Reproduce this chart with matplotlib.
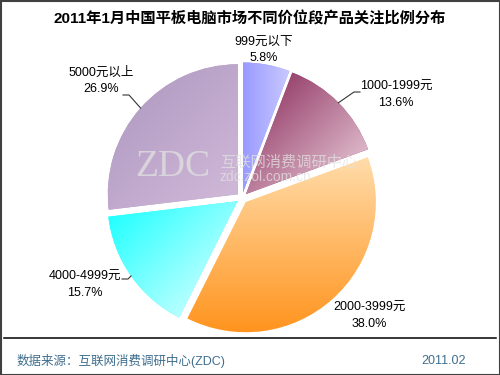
import matplotlib.pyplot as plt
import numpy as np
from matplotlib.patches import Rectangle
from matplotlib.colors import to_rgb

plt.rcParams['font.family'] = ['Liberation Sans', 'Noto Sans CJK SC']

# 数据
labels = ['999元以下', '1000-1999元', '2000-3999元', '4000-4999元', '5000元以上']
shares = [5.8, 13.6, 38.0, 15.7, 26.9]

# 渐变色 (起点, 终点, 方向)
grad_colors = [('#9a9aff', '#c8c8ff', (1, 0)),
               ('#9a4670', '#dcb6c8', (1, 1)),
               ('#ffdcaa', '#ff941e', (0, 1)),
               ('#22ffff', '#b8ffff', (1, 1)),
               ('#b6a0c6', '#d0b8d8', (1, 1))]

# 标签位置 (像素) 和引线拐点
label_pos = [(264, 50), (396, 95), (369, 316), (85, 285), (101, 81)]
knees = [None, [(354, 92), (360, 92)], None,
         [(128, 279), (122, 279)], [(129, 95), (123, 95)]]

W, H = 500, 375
fig = plt.figure(figsize=(5, 3.75), dpi=100)
ax = fig.add_axes([0, 0, 1, 1])

cx, cy, R = 242, 198, 130
# y轴反向 -> startangle=-90 + 逆时针 = 屏幕上从12点顺时针
# explode 是数据单位(像素)
wedges, _ = ax.pie(shares, center=(cx, cy), radius=R, startangle=-90,
                   counterclock=True, explode=[5.6] * 5,
                   colors=[c[0] for c in grad_colors],
                   wedgeprops=dict(linewidth=0))

X, Y = np.meshgrid(np.arange(W) + 0.5, np.arange(H) + 0.5)
for w, (c1, c2, (dx, dy)) in zip(wedges, grad_colors):
    th = np.radians(np.linspace(w.theta1, w.theta2, 60))
    px = np.r_[w.center[0], w.center[0] + w.r * np.cos(th)]
    py = np.r_[w.center[1], w.center[1] + w.r * np.sin(th)]
    p = px * dx + py * dy
    t = np.clip((X * dx + Y * dy - p.min()) / (p.max() - p.min()), 0, 1)
    a, b = np.array(to_rgb(c1)), np.array(to_rgb(c2))
    img = a + t[..., None] * (b - a)
    im = ax.imshow(img, extent=(0, W, H, 0), origin='upper', zorder=2,
                   interpolation='bilinear')
    im.set_clip_path(w)

# 标签与引线
for w, lab, v, pos, kn in zip(wedges, labels, shares, label_pos, knees):
    ax.text(pos[0], pos[1], f'{lab}\n{v:.1f}%', ha='center', va='center',
            fontsize=9, linespacing=1.4, color='black', zorder=5)
    if kn:
        mid = np.radians((w.theta1 + w.theta2) / 2)
        ex = w.center[0] + w.r * np.cos(mid)
        ey = w.center[1] + w.r * np.sin(mid)
        xs = [ex] + [k[0] for k in kn]
        ys = [ey] + [k[1] for k in kn]
        ax.plot(xs, ys, color='#333333', lw=0.8, zorder=4)

# 水印
ax.text(135, 167, 'ZDC', family='Liberation Serif', fontsize=27,
        color='#e2e2e2', alpha=0.75, va='center', ha='left', zorder=3)
ax.text(220, 162, '互联网消费调研中心', fontsize=11, color='#e2e2e2',
        alpha=0.75, va='center', ha='left', zorder=3)
ax.text(220, 177, 'zdc.zol.com.cn', fontsize=10, color='#e2e2e2',
        alpha=0.75, va='center', ha='left', zorder=3)

# 标题
ax.text(250, 18, '2011年1月中国平板电脑市场不同价位段产品关注比例分布',
        ha='center', va='center', fontsize=11, fontweight='bold')

# 分隔线与底部
ax.plot([4, 496], [338, 338], color='black', lw=1.1)
ax.text(17, 361, '数据来源：互联网消费调研中心(ZDC)', fontsize=9,
        color='#3f6e8e', va='center', ha='left')
ax.text(466, 361, '2011.02', fontsize=9, color='#3f6e8e',
        va='center', ha='right')

ax.add_patch(Rectangle((0.5, 0.5), W - 1, H - 1, fill=False,
                       edgecolor='#404040', lw=1.5, zorder=6))

ax.set_xlim(0, W)
ax.set_ylim(H, 0)
ax.set_aspect('auto')
ax.axis('off')

fig.savefig('out.png', dpi=100)
